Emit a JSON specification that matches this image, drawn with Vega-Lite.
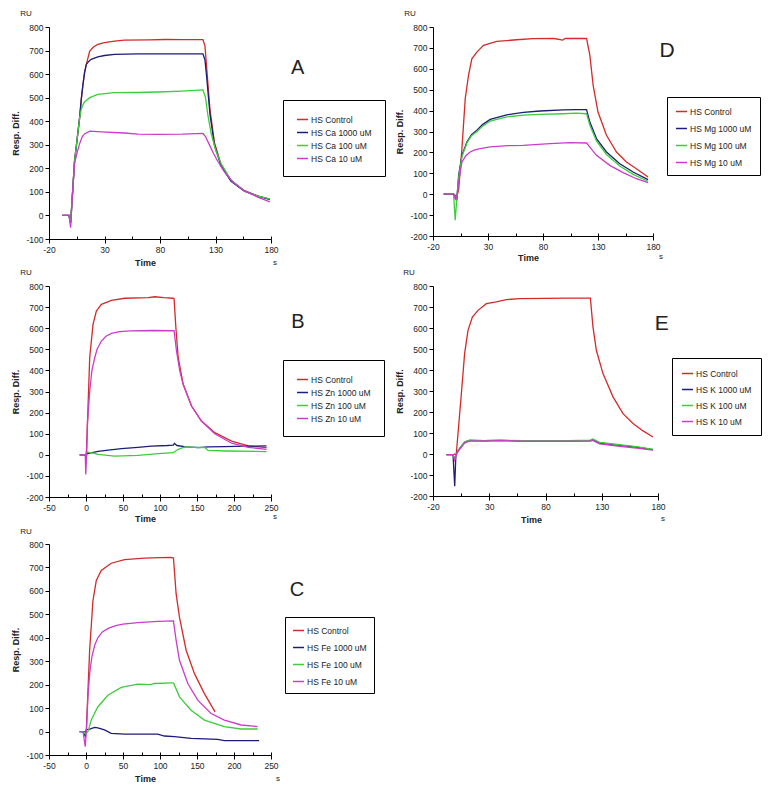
{
"$schema": "https://vega.github.io/schema/vega-lite/v6.json",
"padding": {"left": 11, "top": 10, "right": 0, "bottom": 0},
"bounds": "flush",
"columns": 2,
"spacing": {"row": 47, "column": 162},
"datasets": {
"A": [
{"s":"HS Control","t":-8,"r":0},{"s":"HS Control","t":-2,"r":0},{"s":"HS Control","t":-0.5,"r":-30},{"s":"HS Control","t":1,"r":80},{"s":"HS Control","t":3,"r":230},{"s":"HS Control","t":5.5,"r":330},{"s":"HS Control","t":7.6,"r":415},{"s":"HS Control","t":9,"r":490},{"s":"HS Control","t":10.6,"r":556},{"s":"HS Control","t":12,"r":605},{"s":"HS Control","t":13.6,"r":641},{"s":"HS Control","t":16.7,"r":698},{"s":"HS Control","t":20,"r":715},{"s":"HS Control","t":24,"r":726},{"s":"HS Control","t":30,"r":734},{"s":"HS Control","t":39,"r":740},{"s":"HS Control","t":48,"r":744},{"s":"HS Control","t":70,"r":745},{"s":"HS Control","t":85,"r":747},{"s":"HS Control","t":100,"r":746},{"s":"HS Control","t":118.7,"r":746},{"s":"HS Control","t":120.5,"r":720},{"s":"HS Control","t":122,"r":630},{"s":"HS Control","t":125,"r":450},{"s":"HS Control","t":129,"r":310},{"s":"HS Control","t":135,"r":215},{"s":"HS Control","t":144,"r":148},{"s":"HS Control","t":156,"r":105},{"s":"HS Control","t":168,"r":83},{"s":"HS Control","t":179,"r":68},
{"s":"HS Ca 1000 uM","t":-8,"r":0},{"s":"HS Ca 1000 uM","t":-2,"r":0},{"s":"HS Ca 1000 uM","t":-0.5,"r":-30},{"s":"HS Ca 1000 uM","t":1,"r":80},{"s":"HS Ca 1000 uM","t":3,"r":230},{"s":"HS Ca 1000 uM","t":5.5,"r":330},{"s":"HS Ca 1000 uM","t":7.6,"r":415},{"s":"HS Ca 1000 uM","t":9,"r":490},{"s":"HS Ca 1000 uM","t":10.6,"r":556},{"s":"HS Ca 1000 uM","t":12,"r":605},{"s":"HS Ca 1000 uM","t":13.6,"r":641},{"s":"HS Ca 1000 uM","t":16,"r":655},{"s":"HS Ca 1000 uM","t":18,"r":663},{"s":"HS Ca 1000 uM","t":24,"r":673},{"s":"HS Ca 1000 uM","t":30,"r":679},{"s":"HS Ca 1000 uM","t":39,"r":684},{"s":"HS Ca 1000 uM","t":60,"r":686},{"s":"HS Ca 1000 uM","t":90,"r":686},{"s":"HS Ca 1000 uM","t":118.7,"r":686},{"s":"HS Ca 1000 uM","t":120.5,"r":660},{"s":"HS Ca 1000 uM","t":122,"r":590},{"s":"HS Ca 1000 uM","t":125,"r":430},{"s":"HS Ca 1000 uM","t":129,"r":300},{"s":"HS Ca 1000 uM","t":135,"r":210},{"s":"HS Ca 1000 uM","t":144,"r":145},{"s":"HS Ca 1000 uM","t":156,"r":103},{"s":"HS Ca 1000 uM","t":168,"r":82},{"s":"HS Ca 1000 uM","t":179,"r":68},
{"s":"HS Ca 100 uM","t":-8,"r":0},{"s":"HS Ca 100 uM","t":-2,"r":0},{"s":"HS Ca 100 uM","t":-0.5,"r":-30},{"s":"HS Ca 100 uM","t":1,"r":80},{"s":"HS Ca 100 uM","t":3,"r":230},{"s":"HS Ca 100 uM","t":5.5,"r":330},{"s":"HS Ca 100 uM","t":7.6,"r":415},{"s":"HS Ca 100 uM","t":9,"r":450},{"s":"HS Ca 100 uM","t":10.6,"r":470},{"s":"HS Ca 100 uM","t":12,"r":482},{"s":"HS Ca 100 uM","t":16.7,"r":500},{"s":"HS Ca 100 uM","t":24,"r":514},{"s":"HS Ca 100 uM","t":39,"r":521},{"s":"HS Ca 100 uM","t":60,"r":522},{"s":"HS Ca 100 uM","t":78,"r":524},{"s":"HS Ca 100 uM","t":100,"r":528},{"s":"HS Ca 100 uM","t":118.7,"r":533},{"s":"HS Ca 100 uM","t":121,"r":500},{"s":"HS Ca 100 uM","t":123,"r":430},{"s":"HS Ca 100 uM","t":126,"r":350},{"s":"HS Ca 100 uM","t":130,"r":280},{"s":"HS Ca 100 uM","t":135,"r":220},{"s":"HS Ca 100 uM","t":144,"r":150},{"s":"HS Ca 100 uM","t":156,"r":105},{"s":"HS Ca 100 uM","t":168,"r":82},{"s":"HS Ca 100 uM","t":179,"r":70},
{"s":"HS Ca 10 uM","t":-8,"r":0},{"s":"HS Ca 10 uM","t":-2,"r":0},{"s":"HS Ca 10 uM","t":-0.5,"r":-52},{"s":"HS Ca 10 uM","t":1,"r":80},{"s":"HS Ca 10 uM","t":3,"r":220},{"s":"HS Ca 10 uM","t":5.5,"r":270},{"s":"HS Ca 10 uM","t":7.6,"r":305},{"s":"HS Ca 10 uM","t":10,"r":335},{"s":"HS Ca 10 uM","t":12,"r":346},{"s":"HS Ca 10 uM","t":16.7,"r":358},{"s":"HS Ca 10 uM","t":27,"r":355},{"s":"HS Ca 10 uM","t":48,"r":350},{"s":"HS Ca 10 uM","t":60,"r":345},{"s":"HS Ca 10 uM","t":78,"r":344},{"s":"HS Ca 10 uM","t":100,"r":345},{"s":"HS Ca 10 uM","t":118.7,"r":348},{"s":"HS Ca 10 uM","t":121,"r":335},{"s":"HS Ca 10 uM","t":124,"r":305},{"s":"HS Ca 10 uM","t":128,"r":265},{"s":"HS Ca 10 uM","t":132,"r":230},{"s":"HS Ca 10 uM","t":138,"r":185},{"s":"HS Ca 10 uM","t":146,"r":140},{"s":"HS Ca 10 uM","t":156,"r":105},{"s":"HS Ca 10 uM","t":168,"r":78},{"s":"HS Ca 10 uM","t":179,"r":58}
],
"D": [
{"s":"HS Control","t":-10.3,"r":0},{"s":"HS Control","t":-1.3,"r":0},{"s":"HS Control","t":1.5,"r":-10},{"s":"HS Control","t":3.3,"r":20},{"s":"HS Control","t":6.3,"r":218},{"s":"HS Control","t":9.3,"r":457},{"s":"HS Control","t":12.3,"r":569},{"s":"HS Control","t":15.3,"r":648},{"s":"HS Control","t":19.9,"r":680},{"s":"HS Control","t":25.9,"r":712},{"s":"HS Control","t":38,"r":731},{"s":"HS Control","t":56,"r":739},{"s":"HS Control","t":71,"r":744},{"s":"HS Control","t":90,"r":745},{"s":"HS Control","t":98,"r":737},{"s":"HS Control","t":100,"r":745},{"s":"HS Control","t":119.6,"r":745},{"s":"HS Control","t":122.6,"r":664},{"s":"HS Control","t":125.6,"r":521},{"s":"HS Control","t":130,"r":393},{"s":"HS Control","t":137.7,"r":282},{"s":"HS Control","t":146.8,"r":202},{"s":"HS Control","t":155.8,"r":154},{"s":"HS Control","t":164.9,"r":122},{"s":"HS Control","t":175.5,"r":82},
{"s":"HS Mg 1000 uM","t":-10.3,"r":0},{"s":"HS Mg 1000 uM","t":-1.3,"r":0},{"s":"HS Mg 1000 uM","t":0.5,"r":-20},{"s":"HS Mg 1000 uM","t":1.7,"r":-25},{"s":"HS Mg 1000 uM","t":3.3,"r":90},{"s":"HS Mg 1000 uM","t":6.3,"r":186},{"s":"HS Mg 1000 uM","t":10.8,"r":250},{"s":"HS Mg 1000 uM","t":15,"r":285},{"s":"HS Mg 1000 uM","t":19.9,"r":306},{"s":"HS Mg 1000 uM","t":25,"r":333},{"s":"HS Mg 1000 uM","t":32,"r":358},{"s":"HS Mg 1000 uM","t":47,"r":380},{"s":"HS Mg 1000 uM","t":62.2,"r":392},{"s":"HS Mg 1000 uM","t":77.3,"r":398},{"s":"HS Mg 1000 uM","t":98.4,"r":403},{"s":"HS Mg 1000 uM","t":110,"r":405},{"s":"HS Mg 1000 uM","t":119.6,"r":405},{"s":"HS Mg 1000 uM","t":122.6,"r":345},{"s":"HS Mg 1000 uM","t":128.6,"r":266},{"s":"HS Mg 1000 uM","t":137.7,"r":202},{"s":"HS Mg 1000 uM","t":149.8,"r":146},{"s":"HS Mg 1000 uM","t":161.9,"r":106},{"s":"HS Mg 1000 uM","t":175.5,"r":70},
{"s":"HS Mg 100 uM","t":-10.3,"r":0},{"s":"HS Mg 100 uM","t":-1.3,"r":0},{"s":"HS Mg 100 uM","t":0.2,"r":-125},{"s":"HS Mg 100 uM","t":1.5,"r":-30},{"s":"HS Mg 100 uM","t":3.3,"r":80},{"s":"HS Mg 100 uM","t":6.3,"r":180},{"s":"HS Mg 100 uM","t":10.8,"r":245},{"s":"HS Mg 100 uM","t":15,"r":280},{"s":"HS Mg 100 uM","t":19.9,"r":300},{"s":"HS Mg 100 uM","t":25,"r":325},{"s":"HS Mg 100 uM","t":32,"r":350},{"s":"HS Mg 100 uM","t":47,"r":370},{"s":"HS Mg 100 uM","t":62.2,"r":378},{"s":"HS Mg 100 uM","t":77.3,"r":382},{"s":"HS Mg 100 uM","t":98.4,"r":385},{"s":"HS Mg 100 uM","t":110,"r":388},{"s":"HS Mg 100 uM","t":119.6,"r":385},{"s":"HS Mg 100 uM","t":122.6,"r":330},{"s":"HS Mg 100 uM","t":128.6,"r":255},{"s":"HS Mg 100 uM","t":137.7,"r":190},{"s":"HS Mg 100 uM","t":149.8,"r":135},{"s":"HS Mg 100 uM","t":161.9,"r":95},{"s":"HS Mg 100 uM","t":175.5,"r":62},
{"s":"HS Mg 10 uM","t":-10.3,"r":0},{"s":"HS Mg 10 uM","t":-1.3,"r":0},{"s":"HS Mg 10 uM","t":0.5,"r":-25},{"s":"HS Mg 10 uM","t":1.7,"r":-20},{"s":"HS Mg 10 uM","t":3.3,"r":60},{"s":"HS Mg 10 uM","t":6.3,"r":154},{"s":"HS Mg 10 uM","t":10,"r":185},{"s":"HS Mg 10 uM","t":13.8,"r":202},{"s":"HS Mg 10 uM","t":18,"r":212},{"s":"HS Mg 10 uM","t":22.9,"r":218},{"s":"HS Mg 10 uM","t":32,"r":226},{"s":"HS Mg 10 uM","t":48,"r":232},{"s":"HS Mg 10 uM","t":62,"r":234},{"s":"HS Mg 10 uM","t":86.3,"r":242},{"s":"HS Mg 10 uM","t":104.5,"r":247},{"s":"HS Mg 10 uM","t":119.6,"r":245},{"s":"HS Mg 10 uM","t":122.6,"r":225},{"s":"HS Mg 10 uM","t":128.6,"r":186},{"s":"HS Mg 10 uM","t":140.7,"r":138},{"s":"HS Mg 10 uM","t":152.8,"r":103},{"s":"HS Mg 10 uM","t":164.9,"r":74},{"s":"HS Mg 10 uM","t":175.5,"r":55}
],
"B": [
{"s":"HS Control","t":-8.5,"r":0},{"s":"HS Control","t":-1,"r":0},{"s":"HS Control","t":0.5,"r":0},{"s":"HS Control","t":5,"r":460},{"s":"HS Control","t":9.5,"r":618},{"s":"HS Control","t":14,"r":681},{"s":"HS Control","t":20.8,"r":713},{"s":"HS Control","t":34.4,"r":732},{"s":"HS Control","t":52.4,"r":742},{"s":"HS Control","t":84,"r":745},{"s":"HS Control","t":93,"r":749},{"s":"HS Control","t":105,"r":745},{"s":"HS Control","t":117.8,"r":742},{"s":"HS Control","t":119,"r":740},{"s":"HS Control","t":121.5,"r":600},{"s":"HS Control","t":124.6,"r":460},{"s":"HS Control","t":131.3,"r":334},{"s":"HS Control","t":142.6,"r":231},{"s":"HS Control","t":156,"r":160},{"s":"HS Control","t":174,"r":105},{"s":"HS Control","t":196.7,"r":65},{"s":"HS Control","t":219.3,"r":42},{"s":"HS Control","t":244,"r":34},
{"s":"HS Zn 1000 uM","t":-8.5,"r":0},{"s":"HS Zn 1000 uM","t":-1,"r":0},{"s":"HS Zn 1000 uM","t":0.5,"r":3},{"s":"HS Zn 1000 uM","t":5,"r":8},{"s":"HS Zn 1000 uM","t":16.3,"r":16},{"s":"HS Zn 1000 uM","t":30,"r":22},{"s":"HS Zn 1000 uM","t":48,"r":29},{"s":"HS Zn 1000 uM","t":70,"r":35},{"s":"HS Zn 1000 uM","t":88.5,"r":41},{"s":"HS Zn 1000 uM","t":110,"r":44},{"s":"HS Zn 1000 uM","t":117.8,"r":46},{"s":"HS Zn 1000 uM","t":119.5,"r":54},{"s":"HS Zn 1000 uM","t":123,"r":44},{"s":"HS Zn 1000 uM","t":135,"r":38},{"s":"HS Zn 1000 uM","t":151.6,"r":34},{"s":"HS Zn 1000 uM","t":165,"r":38},{"s":"HS Zn 1000 uM","t":187.7,"r":39},{"s":"HS Zn 1000 uM","t":215,"r":41},{"s":"HS Zn 1000 uM","t":244,"r":42},
{"s":"HS Zn 100 uM","t":-8.5,"r":0},{"s":"HS Zn 100 uM","t":-1,"r":0},{"s":"HS Zn 100 uM","t":0.5,"r":13},{"s":"HS Zn 100 uM","t":10,"r":8},{"s":"HS Zn 100 uM","t":16.3,"r":2},{"s":"HS Zn 100 uM","t":38.9,"r":-6},{"s":"HS Zn 100 uM","t":70,"r":-3},{"s":"HS Zn 100 uM","t":97.5,"r":6},{"s":"HS Zn 100 uM","t":117.8,"r":10},{"s":"HS Zn 100 uM","t":124.6,"r":26},{"s":"HS Zn 100 uM","t":133.6,"r":37},{"s":"HS Zn 100 uM","t":160.7,"r":34},{"s":"HS Zn 100 uM","t":165,"r":21},{"s":"HS Zn 100 uM","t":190,"r":18},{"s":"HS Zn 100 uM","t":244,"r":15},
{"s":"HS Zn 10 uM","t":-8.5,"r":0},{"s":"HS Zn 10 uM","t":-1,"r":0},{"s":"HS Zn 10 uM","t":-0.3,"r":-93},{"s":"HS Zn 10 uM","t":0.8,"r":0},{"s":"HS Zn 10 uM","t":2,"r":150},{"s":"HS Zn 10 uM","t":5,"r":300},{"s":"HS Zn 10 uM","t":8,"r":400},{"s":"HS Zn 10 uM","t":11.8,"r":460},{"s":"HS Zn 10 uM","t":15,"r":500},{"s":"HS Zn 10 uM","t":20.8,"r":539},{"s":"HS Zn 10 uM","t":27,"r":562},{"s":"HS Zn 10 uM","t":34.4,"r":575},{"s":"HS Zn 10 uM","t":45,"r":584},{"s":"HS Zn 10 uM","t":60,"r":587},{"s":"HS Zn 10 uM","t":90,"r":589},{"s":"HS Zn 10 uM","t":119,"r":588},{"s":"HS Zn 10 uM","t":122.3,"r":492},{"s":"HS Zn 10 uM","t":126.8,"r":397},{"s":"HS Zn 10 uM","t":131.3,"r":334},{"s":"HS Zn 10 uM","t":142.6,"r":231},{"s":"HS Zn 10 uM","t":156,"r":160},{"s":"HS Zn 10 uM","t":174,"r":100},{"s":"HS Zn 10 uM","t":196.7,"r":55},{"s":"HS Zn 10 uM","t":219.3,"r":35},{"s":"HS Zn 10 uM","t":244,"r":26}
],
"E": [
{"s":"HS Control","t":-8,"r":-3},{"s":"HS Control","t":-2.2,"r":-3},{"s":"HS Control","t":0.7,"r":0},{"s":"HS Control","t":5.2,"r":287},{"s":"HS Control","t":8.1,"r":478},{"s":"HS Control","t":11.1,"r":589},{"s":"HS Control","t":15,"r":652},{"s":"HS Control","t":20,"r":684},{"s":"HS Control","t":27.4,"r":716},{"s":"HS Control","t":36.3,"r":724},{"s":"HS Control","t":45.2,"r":735},{"s":"HS Control","t":57,"r":740},{"s":"HS Control","t":80,"r":741},{"s":"HS Control","t":100,"r":742},{"s":"HS Control","t":119.9,"r":742},{"s":"HS Control","t":122.2,"r":605},{"s":"HS Control","t":125.2,"r":494},{"s":"HS Control","t":131.1,"r":383},{"s":"HS Control","t":140,"r":272},{"s":"HS Control","t":148.9,"r":192},{"s":"HS Control","t":157.8,"r":145},{"s":"HS Control","t":166.7,"r":110},{"s":"HS Control","t":175.6,"r":81},
{"s":"HS K 1000 uM","t":-8,"r":-3},{"s":"HS K 1000 uM","t":-2.2,"r":-3},{"s":"HS K 1000 uM","t":-0.7,"r":-154},{"s":"HS K 1000 uM","t":0.3,"r":-10},{"s":"HS K 1000 uM","t":1.5,"r":10},{"s":"HS K 1000 uM","t":3.7,"r":26},{"s":"HS K 1000 uM","t":8.1,"r":57},{"s":"HS K 1000 uM","t":12.6,"r":65},{"s":"HS K 1000 uM","t":25,"r":63},{"s":"HS K 1000 uM","t":40,"r":65},{"s":"HS K 1000 uM","t":60,"r":62},{"s":"HS K 1000 uM","t":80,"r":62},{"s":"HS K 1000 uM","t":100,"r":62},{"s":"HS K 1000 uM","t":119.9,"r":64},{"s":"HS K 1000 uM","t":122,"r":68},{"s":"HS K 1000 uM","t":128.1,"r":52},{"s":"HS K 1000 uM","t":145.9,"r":41},{"s":"HS K 1000 uM","t":160.8,"r":33},{"s":"HS K 1000 uM","t":175.6,"r":21},
{"s":"HS K 100 uM","t":-8,"r":-3},{"s":"HS K 100 uM","t":-2.2,"r":-3},{"s":"HS K 100 uM","t":-0.7,"r":-20},{"s":"HS K 100 uM","t":1.5,"r":8},{"s":"HS K 100 uM","t":3.7,"r":28},{"s":"HS K 100 uM","t":8.1,"r":58},{"s":"HS K 100 uM","t":12.6,"r":66},{"s":"HS K 100 uM","t":25,"r":64},{"s":"HS K 100 uM","t":40,"r":66},{"s":"HS K 100 uM","t":60,"r":63},{"s":"HS K 100 uM","t":80,"r":63},{"s":"HS K 100 uM","t":100,"r":63},{"s":"HS K 100 uM","t":119.9,"r":66},{"s":"HS K 100 uM","t":122,"r":72},{"s":"HS K 100 uM","t":128.1,"r":55},{"s":"HS K 100 uM","t":145.9,"r":44},{"s":"HS K 100 uM","t":160.8,"r":35},{"s":"HS K 100 uM","t":175.6,"r":22},
{"s":"HS K 10 uM","t":-8,"r":-3},{"s":"HS K 10 uM","t":-2.2,"r":-3},{"s":"HS K 10 uM","t":-0.7,"r":-30},{"s":"HS K 10 uM","t":1.5,"r":6},{"s":"HS K 10 uM","t":3.7,"r":22},{"s":"HS K 10 uM","t":8.1,"r":52},{"s":"HS K 10 uM","t":12.6,"r":62},{"s":"HS K 10 uM","t":25,"r":62},{"s":"HS K 10 uM","t":40,"r":64},{"s":"HS K 10 uM","t":60,"r":61},{"s":"HS K 10 uM","t":80,"r":61},{"s":"HS K 10 uM","t":100,"r":61},{"s":"HS K 10 uM","t":119.9,"r":62},{"s":"HS K 10 uM","t":122,"r":65},{"s":"HS K 10 uM","t":128.1,"r":48},{"s":"HS K 10 uM","t":145.9,"r":37},{"s":"HS K 10 uM","t":160.8,"r":28},{"s":"HS K 10 uM","t":175.6,"r":18}
],
"C": [
{"s":"HS Control","t":-8.6,"r":0},{"s":"HS Control","t":-4,"r":0},{"s":"HS Control","t":0.4,"r":0},{"s":"HS Control","t":4.9,"r":347},{"s":"HS Control","t":9.4,"r":559},{"s":"HS Control","t":13.9,"r":644},{"s":"HS Control","t":20.6,"r":687},{"s":"HS Control","t":34.1,"r":718},{"s":"HS Control","t":52.1,"r":733},{"s":"HS Control","t":79.1,"r":740},{"s":"HS Control","t":100,"r":742},{"s":"HS Control","t":115,"r":743},{"s":"HS Control","t":118.2,"r":740},{"s":"HS Control","t":121.8,"r":587},{"s":"HS Control","t":126.3,"r":488},{"s":"HS Control","t":135.3,"r":347},{"s":"HS Control","t":146.6,"r":247},{"s":"HS Control","t":160,"r":162},{"s":"HS Control","t":174.4,"r":84},
{"s":"HS Fe 1000 uM","t":-8.6,"r":0},{"s":"HS Fe 1000 uM","t":-4,"r":0},{"s":"HS Fe 1000 uM","t":-1,"r":-20},{"s":"HS Fe 1000 uM","t":0.4,"r":7},{"s":"HS Fe 1000 uM","t":5,"r":10},{"s":"HS Fe 1000 uM","t":11.6,"r":18},{"s":"HS Fe 1000 uM","t":16,"r":16},{"s":"HS Fe 1000 uM","t":25,"r":7},{"s":"HS Fe 1000 uM","t":34,"r":-8},{"s":"HS Fe 1000 uM","t":52,"r":-11},{"s":"HS Fe 1000 uM","t":97,"r":-11},{"s":"HS Fe 1000 uM","t":106,"r":-19},{"s":"HS Fe 1000 uM","t":119.6,"r":-22},{"s":"HS Fe 1000 uM","t":142,"r":-29},{"s":"HS Fe 1000 uM","t":178,"r":-33},{"s":"HS Fe 1000 uM","t":187,"r":-39},{"s":"HS Fe 1000 uM","t":234,"r":-39},
{"s":"HS Fe 100 uM","t":-8.6,"r":0},{"s":"HS Fe 100 uM","t":-4,"r":0},{"s":"HS Fe 100 uM","t":-1,"r":-10},{"s":"HS Fe 100 uM","t":2.6,"r":0},{"s":"HS Fe 100 uM","t":7.1,"r":49},{"s":"HS Fe 100 uM","t":16.1,"r":106},{"s":"HS Fe 100 uM","t":29.6,"r":155},{"s":"HS Fe 100 uM","t":47.6,"r":188},{"s":"HS Fe 100 uM","t":70,"r":202},{"s":"HS Fe 100 uM","t":88,"r":200},{"s":"HS Fe 100 uM","t":92,"r":205},{"s":"HS Fe 100 uM","t":117.3,"r":208},{"s":"HS Fe 100 uM","t":118.5,"r":206},{"s":"HS Fe 100 uM","t":126.3,"r":148},{"s":"HS Fe 100 uM","t":142,"r":91},{"s":"HS Fe 100 uM","t":160,"r":49},{"s":"HS Fe 100 uM","t":187,"r":21},{"s":"HS Fe 100 uM","t":209.5,"r":11},{"s":"HS Fe 100 uM","t":232,"r":11},
{"s":"HS Fe 10 uM","t":-8.6,"r":0},{"s":"HS Fe 10 uM","t":-4,"r":0},{"s":"HS Fe 10 uM","t":-1,"r":-64},{"s":"HS Fe 10 uM","t":0.5,"r":0},{"s":"HS Fe 10 uM","t":2.6,"r":150},{"s":"HS Fe 10 uM","t":5,"r":250},{"s":"HS Fe 10 uM","t":8,"r":320},{"s":"HS Fe 10 uM","t":12,"r":370},{"s":"HS Fe 10 uM","t":16,"r":400},{"s":"HS Fe 10 uM","t":22,"r":425},{"s":"HS Fe 10 uM","t":30,"r":440},{"s":"HS Fe 10 uM","t":40,"r":452},{"s":"HS Fe 10 uM","t":50,"r":458},{"s":"HS Fe 10 uM","t":70,"r":465},{"s":"HS Fe 10 uM","t":97,"r":470},{"s":"HS Fe 10 uM","t":118.2,"r":472},{"s":"HS Fe 10 uM","t":121.8,"r":389},{"s":"HS Fe 10 uM","t":126.3,"r":304},{"s":"HS Fe 10 uM","t":137.6,"r":205},{"s":"HS Fe 10 uM","t":151,"r":134},{"s":"HS Fe 10 uM","t":169,"r":77},{"s":"HS Fe 10 uM","t":187,"r":49},{"s":"HS Fe 10 uM","t":209.5,"r":28},{"s":"HS Fe 10 uM","t":232,"r":21}
]
},
"concat": [
{"width": 222, "height": 212, "resolve": {"axis": {"x": "independent", "y": "independent"}}, "layer": [
 {"data": {"name": "A"}, "mark": {"type": "line", "strokeWidth": 1.3},
  "encoding": {
   "x": {"field": "t", "type": "quantitative", "scale": {"domain": [-20, 180], "nice": false, "zero": false}, "axis": {"orient": "bottom", "values": [-20, 30, 80, 130, 180], "title": "Time", "titleX": 96, "titlePadding": 5}},
   "y": {"field": "r", "type": "quantitative", "scale": {"domain": [-100, 800], "nice": false}, "axis": {"orient": "left", "values": [-100, 0, 100, 200, 300, 400, 500, 600, 700, 800], "title": "Resp. Diff.", "titlePadding": 5}},
   "color": {"field": "s", "type": "nominal", "scale": {"domain": ["HS Control", "HS Ca 1000 uM", "HS Ca 100 uM", "HS Ca 10 uM"], "range": ["#d42a2a", "#1c1c7c", "#3ccc3c", "#cc3ccc"]}, "legend": {"orient": "none", "legendX": 234, "legendY": 73, "title": null, "padding": 13, "rowPadding": 2}}}},
 {"data": {"values": [{}]}, "mark": {"type": "text", "fontSize": 20}, "encoding": {"x": {"datum": 204, "type": "quantitative", "axis": null}, "y": {"datum": 626, "type": "quantitative", "axis": null}, "text": {"value": "A"}}},
 {"data": {"values": [{}]}, "mark": {"type": "text", "fontSize": 8, "dx": -23, "dy": -13}, "encoding": {"x": {"datum": -20, "type": "quantitative", "axis": {"orient": "bottom", "values": [-20, 5, 30, 55, 80, 105, 130, 155, 180], "labels": false, "domain": false, "title": null, "tickSize": -3}}, "y": {"datum": 800, "type": "quantitative", "axis": null}, "text": {"value": "RU"}}},
 {"data": {"values": [{}]}, "mark": {"type": "text", "fontSize": 8, "dx": 4, "dy": 24}, "encoding": {"x": {"datum": 180, "type": "quantitative", "axis": null}, "y": {"datum": -100, "type": "quantitative", "axis": null}, "text": {"value": "s"}}}
]},
{"width": 220, "height": 209, "resolve": {"axis": {"x": "independent", "y": "independent"}}, "layer": [
 {"data": {"name": "D"}, "mark": {"type": "line", "strokeWidth": 1.3},
  "encoding": {
   "x": {"field": "t", "type": "quantitative", "scale": {"domain": [-20, 180], "nice": false, "zero": false}, "axis": {"orient": "bottom", "values": [-20, 30, 80, 130, 180], "title": "Time", "titleX": 95, "titlePadding": 3}},
   "y": {"field": "r", "type": "quantitative", "scale": {"domain": [-200, 800], "nice": false}, "axis": {"orient": "left", "values": [-200, -100, 0, 100, 200, 300, 400, 500, 600, 700, 800], "title": "Resp. Diff.", "titlePadding": 5}},
   "color": {"field": "s", "type": "nominal", "scale": {"domain": ["HS Control", "HS Mg 1000 uM", "HS Mg 100 uM", "HS Mg 10 uM"], "range": ["#d42a2a", "#1c1c7c", "#3ccc3c", "#cc3ccc"]}, "legend": {"orient": "none", "legendX": 234, "legendY": 70, "title": null, "padding": 8, "rowPadding": 6}}}},
 {"data": {"values": [{}]}, "mark": {"type": "text", "fontSize": 21}, "encoding": {"x": {"datum": 192.7, "type": "quantitative", "axis": null}, "y": {"datum": 683, "type": "quantitative", "axis": null}, "text": {"value": "D"}}},
 {"data": {"values": [{}]}, "mark": {"type": "text", "fontSize": 8, "dx": -23, "dy": -13}, "encoding": {"x": {"datum": -20, "type": "quantitative", "axis": {"orient": "bottom", "values": [-20, 5, 30, 55, 80, 105, 130, 155, 180], "labels": false, "domain": false, "title": null, "tickSize": -3}}, "y": {"datum": 800, "type": "quantitative", "axis": null}, "text": {"value": "RU"}}},
 {"data": {"values": [{}]}, "mark": {"type": "text", "fontSize": 8, "dx": 8, "dy": 21}, "encoding": {"x": {"datum": 180, "type": "quantitative", "axis": null}, "y": {"datum": -200, "type": "quantitative", "axis": null}, "text": {"value": "s"}}}
]},
{"width": 222, "height": 211, "resolve": {"axis": {"x": "independent", "y": "independent"}}, "layer": [
 {"data": {"name": "B"}, "mark": {"type": "line", "strokeWidth": 1.3},
  "encoding": {
   "x": {"field": "t", "type": "quantitative", "scale": {"domain": [-50, 250], "nice": false, "zero": false}, "axis": {"orient": "bottom", "values": [-50, 0, 50, 100, 150, 200, 250], "title": "Time", "titleX": 96, "titlePadding": 3}},
   "y": {"field": "r", "type": "quantitative", "scale": {"domain": [-200, 800], "nice": false}, "axis": {"orient": "left", "values": [-200, -100, 0, 100, 200, 300, 400, 500, 600, 700, 800], "title": "Resp. Diff.", "titlePadding": 5}},
   "color": {"field": "s", "type": "nominal", "scale": {"domain": ["HS Control", "HS Zn 1000 uM", "HS Zn 100 uM", "HS Zn 10 uM"], "range": ["#d42a2a", "#1c1c7c", "#3ccc3c", "#cc3ccc"]}, "legend": {"orient": "none", "legendX": 234, "legendY": 74, "title": null, "padding": 13, "rowPadding": 2}}}},
 {"data": {"values": [{}]}, "mark": {"type": "text", "fontSize": 20}, "encoding": {"x": {"datum": 286.5, "type": "quantitative", "axis": null}, "y": {"datum": 629, "type": "quantitative", "axis": null}, "text": {"value": "B"}}},
 {"data": {"values": [{}]}, "mark": {"type": "text", "fontSize": 8, "dx": -23, "dy": -13}, "encoding": {"x": {"datum": -50, "type": "quantitative", "axis": {"orient": "bottom", "values": [-50, -25, 0, 25, 50, 75, 100, 125, 150, 175, 200, 225, 250], "labels": false, "domain": false, "title": null, "tickSize": -3}}, "y": {"datum": 800, "type": "quantitative", "axis": null}, "text": {"value": "RU"}}},
 {"data": {"values": [{}]}, "mark": {"type": "text", "fontSize": 8, "dx": 4, "dy": 20}, "encoding": {"x": {"datum": 250, "type": "quantitative", "axis": null}, "y": {"datum": -200, "type": "quantitative", "axis": null}, "text": {"value": "s"}}}
]},
{"width": 225, "height": 210, "resolve": {"axis": {"x": "independent", "y": "independent"}}, "layer": [
 {"data": {"name": "E"}, "mark": {"type": "line", "strokeWidth": 1.3},
  "encoding": {
   "x": {"field": "t", "type": "quantitative", "scale": {"domain": [-20, 180], "nice": false, "zero": false}, "axis": {"orient": "bottom", "values": [-20, 30, 80, 130, 180], "title": "Time", "titleX": 98, "titlePadding": 5}},
   "y": {"field": "r", "type": "quantitative", "scale": {"domain": [-200, 800], "nice": false}, "axis": {"orient": "left", "values": [-200, -100, 0, 100, 200, 300, 400, 500, 600, 700, 800], "title": "Resp. Diff.", "titlePadding": 5}},
   "color": {"field": "s", "type": "nominal", "scale": {"domain": ["HS Control", "HS K 1000 uM", "HS K 100 uM", "HS K 10 uM"], "range": ["#d42a2a", "#1c1c7c", "#3ccc3c", "#cc3ccc"]}, "legend": {"orient": "none", "legendX": 239, "legendY": 72, "title": null, "padding": 9, "rowPadding": 5}}}},
 {"data": {"values": [{}]}, "mark": {"type": "text", "fontSize": 21}, "encoding": {"x": {"datum": 183.3, "type": "quantitative", "axis": null}, "y": {"datum": 621, "type": "quantitative", "axis": null}, "text": {"value": "E"}}},
 {"data": {"values": [{}]}, "mark": {"type": "text", "fontSize": 8, "dx": -24, "dy": -13}, "encoding": {"x": {"datum": -20, "type": "quantitative", "axis": {"orient": "bottom", "values": [-20, 5, 30, 55, 80, 105, 130, 155, 180], "labels": false, "domain": false, "title": null, "tickSize": -3}}, "y": {"datum": 800, "type": "quantitative", "axis": null}, "text": {"value": "RU"}}},
 {"data": {"values": [{}]}, "mark": {"type": "text", "fontSize": 8, "dx": 5, "dy": 23}, "encoding": {"x": {"datum": 180, "type": "quantitative", "axis": null}, "y": {"datum": -200, "type": "quantitative", "axis": null}, "text": {"value": "s"}}}
]},
{"width": 222, "height": 211, "resolve": {"axis": {"x": "independent", "y": "independent"}}, "layer": [
 {"data": {"name": "C"}, "mark": {"type": "line", "strokeWidth": 1.3},
  "encoding": {
   "x": {"field": "t", "type": "quantitative", "scale": {"domain": [-50, 250], "nice": false, "zero": false}, "axis": {"orient": "bottom", "values": [-50, 0, 50, 100, 150, 200, 250], "title": "Time", "titleX": 96, "titlePadding": 5}},
   "y": {"field": "r", "type": "quantitative", "scale": {"domain": [-100, 800], "nice": false}, "axis": {"orient": "left", "values": [-100, 0, 100, 200, 300, 400, 500, 600, 700, 800], "title": "Resp. Diff.", "titlePadding": 5}},
   "color": {"field": "s", "type": "nominal", "scale": {"domain": ["HS Control", "HS Fe 1000 uM", "HS Fe 100 uM", "HS Fe 10 uM"], "range": ["#d42a2a", "#1c1c7c", "#3ccc3c", "#cc3ccc"]}, "legend": {"orient": "none", "legendX": 236, "legendY": 73, "title": null, "padding": 7, "rowPadding": 6}}}},
 {"data": {"values": [{}]}, "mark": {"type": "text", "fontSize": 20}, "encoding": {"x": {"datum": 285, "type": "quantitative", "axis": null}, "y": {"datum": 604, "type": "quantitative", "axis": null}, "text": {"value": "C"}}},
 {"data": {"values": [{}]}, "mark": {"type": "text", "fontSize": 8, "dx": -23, "dy": -12}, "encoding": {"x": {"datum": -50, "type": "quantitative", "axis": {"orient": "bottom", "values": [-50, -25, 0, 25, 50, 75, 100, 125, 150, 175, 200, 225, 250], "labels": false, "domain": false, "title": null, "tickSize": -3}}, "y": {"datum": 800, "type": "quantitative", "axis": null}, "text": {"value": "RU"}}},
 {"data": {"values": [{}]}, "mark": {"type": "text", "fontSize": 8, "dx": 7, "dy": 24}, "encoding": {"x": {"datum": 250, "type": "quantitative", "axis": null}, "y": {"datum": -100, "type": "quantitative", "axis": null}, "text": {"value": "s"}}}
]}
],
"resolve": {"scale": {"x": "independent", "y": "independent", "color": "independent"}},
"config": {
 "locale": {"number": {"decimal": ".", "thousands": ",", "grouping": [3], "currency": ["$", ""], "minus": "-"}},
 "view": {"stroke": null},
 "font": "Liberation Sans",
 "text": {"font": "Liberation Sans", "color": "#222"},
 "axis": {"grid": false, "domainColor": "#000", "tickColor": "#000", "labelFontSize": 8.5, "labelColor": "#222", "titleFontSize": 9, "titleFontWeight": "bold", "titleColor": "#222", "tickSize": 4, "labelPadding": 2, "labelFont": "Liberation Sans", "titleFont": "Liberation Sans", "labelOverlap": false, "labelFlush": false},
 "legend": {"strokeColor": "#000", "padding": 9, "rowPadding": 5, "symbolType": "stroke", "symbolSize": 120, "symbolStrokeWidth": 1.5, "labelFontSize": 8.5, "labelColor": "#222", "labelOffset": 2, "labelFont": "Liberation Sans"}
}
}
